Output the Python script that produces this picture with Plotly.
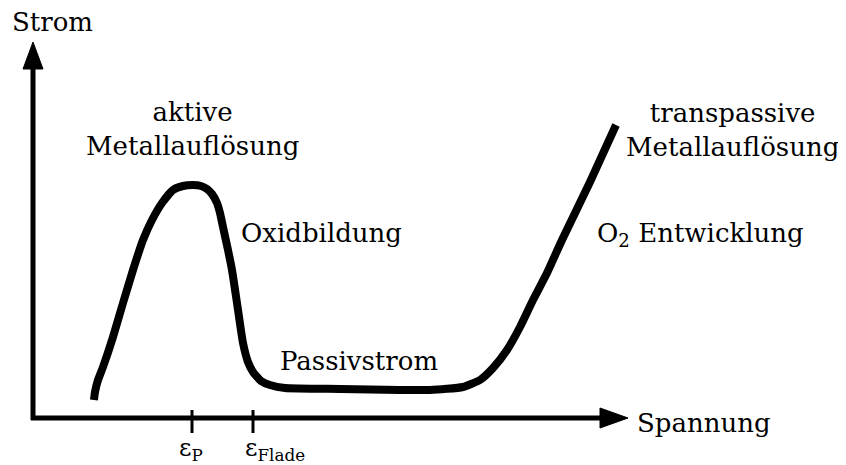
import plotly.graph_objects as go

# Schematic current-voltage curve (arbitrary units, origin at axis crossing)
spannung = [61, 62, 65, 70, 80, 90, 100, 110, 119, 129, 140, 150, 160, 168, 174, 179,
            184, 187, 190, 195, 199, 204, 210, 215, 220, 228, 237, 252, 307, 367, 397,
            430, 447, 460, 474, 487, 500, 514, 529, 557, 583]
strom = [18, 26, 38, 51, 81, 115, 148, 178, 198, 215, 228, 232, 233, 232, 229, 224,
         215, 205, 191, 168, 148, 115, 75, 56, 46, 37, 33, 30, 29, 28, 28,
         31, 38, 50, 68, 91, 118, 145, 178, 236, 293]

tick_pos = [159, 220]
tick_labels = ["ε<sub>P</sub>", "ε<sub>Flade</sub>"]

x_axis_end = 595
y_axis_end = 376

FONT = "DejaVu Serif"
fs = 26

fig = go.Figure()
fig.add_trace(go.Scatter(x=spannung, y=strom, mode="lines",
                         line=dict(color="black", width=8, shape="spline", smoothing=0.5),
                         hoverinfo="skip", showlegend=False))

shapes = []
# axis lines
shapes.append(dict(type="line", x0=-2, y0=0, x1=x_axis_end - 26, y1=0,
                   line=dict(color="black", width=5)))
shapes.append(dict(type="line", x0=0, y0=-2, x1=0, y1=y_axis_end - 26,
                   line=dict(color="black", width=5)))
# arrow heads
shapes.append(dict(type="path",
                   path=f"M {x_axis_end-28},{-10} L {x_axis_end},0 L {x_axis_end-28},10 Z",
                   fillcolor="black", line=dict(color="black", width=1)))
shapes.append(dict(type="path",
                   path=f"M {-10},{y_axis_end-27} L 0,{y_axis_end} L 10,{y_axis_end-27} Z",
                   fillcolor="black", line=dict(color="black", width=1)))
# ticks
for t in tick_pos:
    shapes.append(dict(type="line", x0=t, y0=-15, x1=t, y1=8,
                       line=dict(color="black", width=3)))

annots = []
def txt(x, y, s, size=fs, xanchor="center"):
    annots.append(dict(x=x, y=y, text=s, showarrow=False, xanchor=xanchor, yanchor="middle",
                       font=dict(family=FONT, size=size, color="black")))

txt(19, 396, "Strom")
txt(671, -5, "Spannung")
txt(159, 289, "aktive<br>Metallauflösung")
txt(699, 288, "transpassive<br>Metallauflösung")
txt(288, 185, "Oxidbildung")
txt(326, 57, "Passivstrom")
txt(667, 184, "O<sub>2</sub> Entwicklung")
for t, lab, dx in zip(tick_pos, tick_labels, [-1, 22]):
    txt(t + dx, -31, lab, size=24)

fig.update_layout(
    width=838, height=457,
    margin=dict(l=0, r=0, t=0, b=0),
    paper_bgcolor="white", plot_bgcolor="white",
    xaxis=dict(range=[-25, 813], visible=False, fixedrange=True),
    yaxis=dict(range=[-47, 410], visible=False, fixedrange=True),
    shapes=shapes, annotations=annots,
)
fig.write_html("out.html")
